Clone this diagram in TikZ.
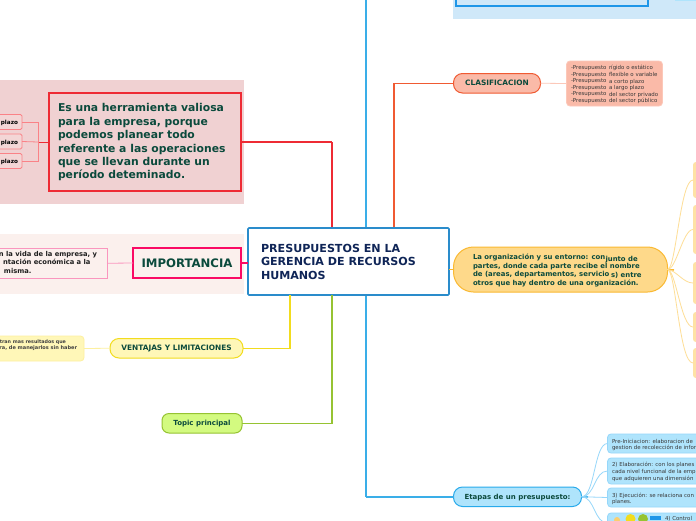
\documentclass[tikz,border=0pt]{standalone}
\usepackage{fontspec}
\setmainfont{DejaVu Sans}
\definecolor{ink}{HTML}{0B4A3C}
\definecolor{navy}{HTML}{0F2557}
\definecolor{bluemain}{HTML}{2A8CCB}
\definecolor{bluetrunk}{HTML}{3AAEE8}
\definecolor{redl}{HTML}{EE2B34}
\definecolor{pinkl}{HTML}{FA0A64}
\definecolor{bgred}{RGB}{240,209,210}
\definecolor{bgpink}{RGB}{251,240,237}
\definecolor{bgblue}{RGB}{207,232,249}
\definecolor{boxblue}{RGB}{30,150,232}
\definecolor{redtwig}{RGB}{250,130,135}
\definecolor{redsub}{RGB}{243,214,214}
\definecolor{pinktwig}{RGB}{250,150,190}
\definecolor{yelline}{RGB}{242,220,30}
\definecolor{yelfill}{RGB}{255,247,184}
\definecolor{yelsub}{RGB}{253,240,160}
\definecolor{grnline}{RGB}{150,195,50}
\definecolor{grnfill}{RGB}{211,250,128}
\definecolor{orgline}{RGB}{240,90,50}
\definecolor{orgfill}{RGB}{250,186,168}
\definecolor{orgsub}{RGB}{252,200,185}
\definecolor{ambline}{RGB}{250,185,50}
\definecolor{ambfill}{RGB}{254,217,138}
\definecolor{ambsub}{RGB}{254,226,165}
\definecolor{ambtwig}{RGB}{254,222,150}
\definecolor{cyanline}{RGB}{40,170,235}
\definecolor{cyanfill}{RGB}{175,228,252}
\definecolor{cyantwig}{RGB}{150,215,250}
\tikzset{
 x=1pt,y=-1pt,
 every node/.style={font=\bfseries,inner sep=0pt,outer sep=0pt},
 pill/.style={draw,rounded corners=9pt,line width=1pt,align=center,minimum height=19.5pt,anchor=north west,text=ink,text height=6.2pt,text depth=.8pt,font=\bfseries\fontsize{7.4}{8}\selectfont},
 sub/.style={rounded corners=3.5pt,line width=.8pt,draw,align=left,anchor=north west},
 small/.style={anchor=north west,align=left,text=black!78,font=\fontsize{5.45}{6.6}\selectfont},
 orgtext/.style={anchor=north west,align=left,text=ink,font=\bfseries\fontsize{6.9}{8.6}\selectfont},
 imptext/.style={align=left,text=black!88,font=\bfseries\fontsize{6.75}{8.2}\selectfont},
 trunk/.style={line width=1.5pt},
 twig/.style={line width=.8pt},
}
\begin{document}
\begin{tikzpicture}
\useasboundingbox (0,0) rectangle (696,520);
\fill[white] (0,0) rectangle (696,520);
\fill[bgred] (0,80) rectangle (244,204);
\fill[bgpink] (0,234) rectangle (244,294);
\fill[bgblue] (453,0) rectangle (696,19);
\fill[cyanfill] (675,0) rectangle (696,1);
\coordinate (redbend) at (332,142);
\coordinate (orgbend) at (394,83.25);
\coordinate (bluetop) at (366,0);
\coordinate (bluebend) at (366,496.75);
\coordinate (yelbend) at (290,348.25);
\coordinate (grnbend) at (332,423.25);
\coordinate (boxa) at (456,-3);
\coordinate (boxb) at (456,6);
\coordinate (boxc) at (648,6);
\coordinate (boxd) at (648,-3);
\coordinate (jr) at (38,142);
% connectors first, nodes paint over their ends
\draw[redl,trunk] (redbend) -- (redbend |- 0,228);
\draw[orgline,trunk] (orgbend) -- (orgbend |- 0,228);
\draw[bluetrunk,trunk] (bluetop) -- (bluetop |- 0,228);
\draw[bluetrunk,trunk] (bluetop |- 0,295) -- (bluebend);
% nodes
\node[draw=bluemain,line width=1.6pt,fill=white,rounded corners=1pt,minimum width=201pt,minimum height=67pt,anchor=north west] (main) at (248,228) {};
\node[anchor=north west,text=navy,align=left,font=\bfseries\fontsize{11.1}{13.6}\selectfont] (maintxt) at (261,244) {PRESUPUESTOS EN LA\\GERENCIA DE RECURSOS\\HUMANOS};
\node[draw=redl,line width=1.5pt,fill=bgred,minimum width=192pt,minimum height=98pt,anchor=north west] (tool) at (49,93) {};
\node[anchor=north west,text=ink,align=left,font=\bfseries\fontsize{10.8}{13.45}\selectfont] (tooltxt) at (58,103.5) {Es una herramienta valiosa\\para la empresa, porque\\podemos planear todo\\referente a las operaciones\\que se llevan durante un\\período deteminado.};
\node[draw=pinkl,line width=1.5pt,fill=bgpink,minimum width=108pt,minimum height=30pt,anchor=north west,text=ink,font=\bfseries\fontsize{11.7}{12}\selectfont] (imp) at (133,248) {IMPORTANCIA};
\node[draw=pinktwig,line width=.8pt,fill=bgpink,minimum width=120pt,minimum height=30.5pt,anchor=north east] (impsub) at (107,248) {};
\node[imptext,anchor=north east] (imptxta) at (97,251) {n la vida de la empresa, y};
\node[imptext,anchor=north east] (imptxtb) at (90.5,259.5) {ntación económica a la};
\node[imptext,anchor=north west] (imptxtc) at (4,268) {misma.};
\foreach \n/\yy in {p1/114.5,p2/134,p3/153.5}{
 \node[draw=redtwig,line width=.9pt,fill=redsub,rounded corners=1.5pt,minimum width=30pt,minimum height=15pt,anchor=north east] (\n) at (22,\yy) {};
 \node[anchor=base east,text=black,font=\bfseries\fontsize{5.7}{7}\selectfont] (\n t) at (18,\yy+10) {plazo};
}
\node[pill,draw=yelline,fill=yelfill,minimum width=133pt] (vent) at (110,338.5) {VENTAJAS Y LIMITACIONES};
\node[sub,draw=yelsub,fill=yelfill,minimum width=94pt,minimum height=25pt,anchor=north east] (ventsub) at (84,336) {};
\node[anchor=north east,text=black!75,font=\bfseries\fontsize{4.8}{6}\selectfont] (venttxta) at (66,339.5) {tran mas resultados que};
\node[anchor=north east,text=black!75,font=\bfseries\fontsize{5}{6}\selectfont] (venttxtb) at (77,345.5) {ra, de manejarlos sin haber};
\node[pill,draw=grnline,fill=grnfill,rounded corners=7pt,minimum width=80pt,font=\bfseries\fontsize{7}{8}\selectfont] (topic) at (162,413.5) {Topic principal};
\node[pill,draw=orgline,fill=orgfill,minimum width=87pt] (clas) at (453.5,73.5) {CLASIFICACION};
\node[sub,draw=orgsub,fill=orgfill,minimum width=96pt,minimum height=45pt] (classub) at (566.5,61) {};
\node[small] (clastxt) at (571,65.5) {-Presupuesto\\-Presupuesto\\-Presupuesto\\-Presupuesto\\-Presupuesto\\-Presupuesto};
\node[small] (clastxtb) at (609,65.5) {rígido o estático\\flexible o variable\\a corto plazo\\a largo plazo\\del sector privado\\del sector público};
\node[draw=ambline,line width=1pt,fill=ambfill,rounded corners=20pt,minimum width=214pt,minimum height=45pt,anchor=north west] (org) at (453.5,247) {};
\node[orgtext] (orgtxt) at (473,254) {La organización y su entorno: con\\partes, donde cada parte recibe el nombre\\de (areas, departamentos, servicio\\otros que hay dentro de una organización.};
\node[orgtext] (orgtxtb) at (605.5,256) {junto de};
\node[orgtext] (orgtxtc) at (611,272.5) {s) entre};
\foreach \n/\ya/\h in {o1/162/36,o2/205/49,o3/262/42,o4/312/30,o5/348/30}{
 \node[fill=ambsub,rounded corners=3pt,minimum width=12pt,minimum height=\h pt,anchor=north west] (\n) at (693,\ya) {};
}
\node[pill,draw=cyanline,fill=cyanfill,minimum width=128pt,font=\bfseries\fontsize{7}{8}\selectfont] (etapas) at (453.5,487) {Etapas de un presupuesto:};
\foreach \n/\ya/\h in {e1/434/19,e2/458/26,e3/488/19,e4/513/20}{
 \node[sub,draw=cyantwig,fill=cyanfill,minimum width=100pt,minimum height=\h pt] (\n) at (607.5,\ya) {};
}
\node[small] (e1t) at (612,439) {Pre-Iniciacion: elaboracion de\\gestion de recolección de infor};
\node[small] (e2t) at (612,462.5) {2) Elaboración: con los planes\\cada nivel funcional de la emp\\que adquieren una dimensión};
\node[small] (e3t) at (612,493) {3) Ejecución: se relaciona con\\planes.};
\node[small] (e4t) at (665,516) {4) Control};
\fill[ambline!70] (617,520) circle (3);
\fill[yelline] (630.5,519) circle (5);
\fill[grnline] (643,519) circle (5);
\fill[boxblue] (650,515.5) rectangle (661,520);
% top box
\draw[boxblue,line width=1.6pt] (boxa) -- (boxb) -- (boxc) -- (boxd);
% connectors
\draw[redl,trunk] (tool.east) -- (redbend);
\draw[pinkl,trunk] (imp.east) -- (main.west |- imp.east);
\draw[yelline,trunk] (vent.east) -- (yelbend) -- (yelbend |- main.south);
\draw[grnline,trunk] (topic.east) -- (grnbend) -- (grnbend |- main.south);
\draw[orgline,trunk] (clas.west) -- (orgbend);
\draw[bluetrunk,trunk] (bluebend) -- (etapas.west);
\draw[ambline,trunk] (main.east |- org.west) -- (org.west);
% twigs
\draw[redl,twig] (tool.west) -- (jr);
\draw[redtwig,twig] (p1.east) -- (38,122) -- (38,161) -- (p3.east);
\draw[redtwig,twig] (p2.east) -- (jr);
\draw[pinktwig,twig] (imp.west) -- (impsub.east);
\draw[yelsub,twig] (vent.west) -- (ventsub.east);
\draw[orgsub,twig] (clas.east) -- (classub.west);
\draw[ambline,trunk] (org.east) -- (674,270);
\foreach \n/\cx in {o1/680,o2/683,o3/683,o4/681,o5/679}{
 \draw[ambtwig,twig] (org.east) .. controls (676,270) and (\cx,\cx |- \n.west) .. (\n.west);
}
\draw[cyanline,trunk] (etapas.east) -- (588,497);
\foreach \n in {e1,e2,e3,e4}{
 \draw[cyantwig,twig] (etapas.east) .. controls (595,497) and (594,0 |- \n.west) .. (\n.west);
}
\end{tikzpicture}
\end{document}
